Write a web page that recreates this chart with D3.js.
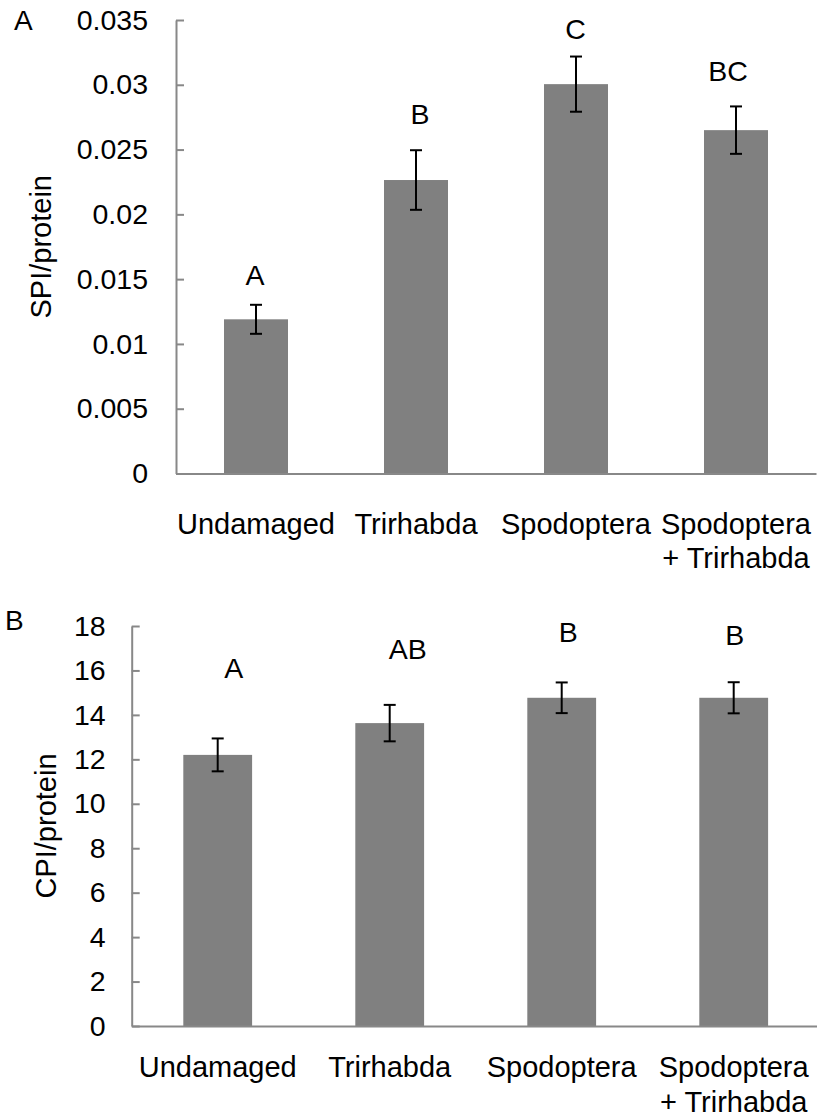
<!DOCTYPE html>
<html>
<head>
<meta charset="utf-8">
<script src="https://cdn.jsdelivr.net/npm/d3@7"></script>
<style>
  html, body { margin: 0; padding: 0; background: #fff; }
  svg { display: block; font-family: "Liberation Sans", Arial, sans-serif; }
</style>
</head>
<body>
<svg id="chart" width="817" height="1118"></svg>
<script>
// ---------- data ----------
const categories = ["Undamaged", "Trirhabda", "Spodoptera", "Spodoptera\n+ Trirhabda"];

// Panel A: SPI/protein
const spiMeans = [0.0119, 0.02265, 0.03005, 0.0265];
const spiErrors = [0.00112, 0.0023, 0.00213, 0.00183];
const spiLetters = ["A", "B", "C", "BC"];
const spiLetterLevels = [0.01455, 0.02697, 0.03353, 0.03029];
const spiTicks = [0, 0.005, 0.01, 0.015, 0.02, 0.025, 0.03, 0.035];
const spiTickLabels = ["0", "0.005", "0.01", "0.015", "0.02", "0.025", "0.03", "0.035"];

// Panel B: CPI/protein
const cpiMeans = [12.2, 13.63, 14.77, 14.77];
const cpiErrors = [0.74, 0.82, 0.69, 0.7];
const cpiLetters = ["A", "AB", "B", "B"];
const cpiLetterLevels = [15.68, 16.53, 17.27, 17.13];
const cpiTicks = [0, 2, 4, 6, 8, 10, 12, 14, 16, 18];
const cpiTickLabels = ["0", "2", "4", "6", "8", "10", "12", "14", "16", "18"];

// ---------- drawing ----------
const svg = d3.select("#chart");
const AXIS_COLOR = "#888888";
const BAR_COLOR = "#808080";

function panel(cfg) {
  const g = svg.append("g");
  const x = d3.scaleBand().domain(categories).range(cfg.xRange)
    .paddingInner(0.6).paddingOuter(0.3);
  const y = d3.scaleLinear().domain(cfg.yDomain).range(cfg.yRange);

  // bars
  g.selectAll("rect.bar").data(cfg.means).join("rect")
    .attr("class", "bar")
    .attr("x", (d, i) => x(categories[i]))
    .attr("width", x.bandwidth())
    .attr("y", d => y(d))
    .attr("height", d => y(0) - y(d))
    .attr("fill", BAR_COLOR);

  // y axis
  const yAxis = d3.axisLeft(y)
    .tickValues(cfg.ticks)
    .tickFormat((d, i) => cfg.tickLabels[i])
    .tickSizeInner(-8).tickSizeOuter(0)
    .tickPadding(cfg.tickPad);
  const ya = g.append("g").attr("transform", `translate(${cfg.xRange[0]},0)`).call(yAxis);
  ya.select(".domain").attr("stroke", AXIS_COLOR).attr("stroke-width", 2);
  ya.selectAll(".tick line").attr("stroke", AXIS_COLOR).attr("stroke-width", 2);
  ya.selectAll(".tick text").attr("fill", "#000").style("font-size", "28.5px")
    .style("font-family", "'Liberation Sans', Arial, sans-serif");

  // x axis (line only, no ticks)
  const xAxis = d3.axisBottom(x).tickSize(0).tickFormat("");
  const xa = g.append("g").attr("transform", `translate(0,${y(0)})`).call(xAxis);
  xa.select(".domain").attr("stroke", AXIS_COLOR).attr("stroke-width", 2);

  // category labels (multi-line)
  const labels = g.selectAll("text.cat").data(categories).join("text")
    .attr("class", "cat")
    .attr("text-anchor", "middle")
    .attr("x", d => x(d) + x.bandwidth() / 2)
    .attr("y", y(0) + cfg.labelOffset)
    .style("font-size", "29px")
    .attr("fill", "#000");
  labels.each(function(d) {
    const t = d3.select(this);
    const cx = t.attr("x");
    d.split("\n").forEach((line, k) => {
      t.append("tspan").attr("x", cx).attr("dy", k === 0 ? 0 : "1.2em").text(line);
    });
  });

  // error bars
  const eb = g.selectAll("g.err").data(cfg.means).join("g").attr("class", "err")
    .attr("stroke", "#000").attr("stroke-width", 2);
  eb.append("line")
    .attr("x1", (d, i) => x(categories[i]) + x.bandwidth() / 2)
    .attr("x2", (d, i) => x(categories[i]) + x.bandwidth() / 2)
    .attr("y1", (d, i) => y(d + cfg.errors[i]))
    .attr("y2", (d, i) => y(d - cfg.errors[i]));
  [1, -1].forEach(s => {
    eb.append("line")
      .attr("x1", (d, i) => x(categories[i]) + x.bandwidth() / 2 - 6)
      .attr("x2", (d, i) => x(categories[i]) + x.bandwidth() / 2 + 6)
      .attr("y1", (d, i) => y(d + s * cfg.errors[i]))
      .attr("y2", (d, i) => y(d + s * cfg.errors[i]));
  });

  // significance letters
  g.selectAll("text.sig").data(cfg.letters).join("text")
    .attr("class", "sig")
    .attr("text-anchor", "middle")
    .attr("x", (d, i) => x(categories[i]) + x.bandwidth() / 2 + cfg.letterDx[i])
    .attr("y", (d, i) => y(cfg.letterLevels[i]))
    .style("font-size", "28.5px")
    .attr("fill", "#000")
    .text(d => d);

  // y axis title
  const my = (cfg.yRange[0] + cfg.yRange[1]) / 2;
  g.append("text")
    .attr("transform", `translate(${cfg.titleX},${my}) rotate(-90)`)
    .attr("text-anchor", "middle")
    .style("font-size", "29px")
    .attr("fill", "#000")
    .text(cfg.title);

  // panel letter
  g.append("text")
    .attr("x", cfg.panelPos[0]).attr("y", cfg.panelPos[1])
    .style("font-size", "28px").attr("fill", "#000")
    .text(cfg.panelLabel);
}

panel({
  xRange: [176, 816], yDomain: [0, 0.035], yRange: [473.5, 20],
  means: spiMeans, errors: spiErrors, letters: spiLetters, letterLevels: spiLetterLevels,
  ticks: spiTicks, tickLabels: spiTickLabels, tickPad: 28,
  letterDx: [-1, 4, -0.5, -8], labelOffset: 60,
  title: "SPI/protein", titleX: 51, panelLabel: "A", panelPos: [14, 30]
});

panel({
  xRange: [131.7, 819.7], yDomain: [0, 18], yRange: [1026, 626],
  means: cpiMeans, errors: cpiErrors, letters: cpiLetters, letterLevels: cpiLetterLevels,
  ticks: cpiTicks, tickLabels: cpiTickLabels, tickPad: 26,
  letterDx: [16, 18, 6.5, 1], labelOffset: 51,
  title: "CPI/protein", titleX: 56, panelLabel: "B", panelPos: [5, 630]
});
</script>
</body>
</html>
